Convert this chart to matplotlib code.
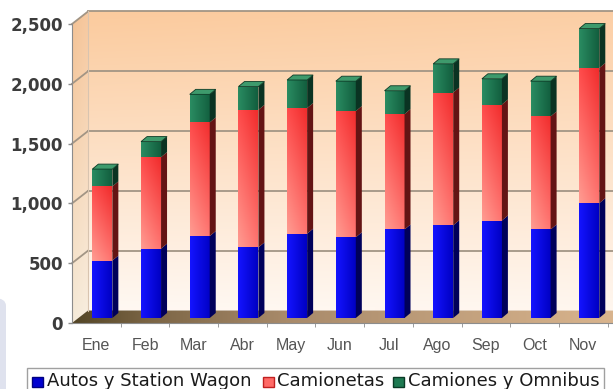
import numpy as np
import matplotlib.pyplot as plt
from matplotlib.patches import Polygon, Rectangle, FancyBboxPatch
from matplotlib.colors import to_rgb

months = ["Ene", "Feb", "Mar", "Abr", "May", "Jun", "Jul", "Ago", "Sep", "Oct", "Nov"]
autos = [480, 580, 685, 590, 705, 675, 740, 775, 815, 740, 960]
camionetas = [620, 765, 950, 1150, 1050, 1055, 965, 1110, 970, 945, 1130]
camiones = [145, 130, 235, 195, 235, 250, 195, 240, 215, 295, 330]
series_names = ["Autos y Station Wagon", "Camionetas", "Camiones y Omnibus"]
y_ticks = [0, 500, 1000, 1500, 2000, 2500]

W, H = 613, 389
XMIN, XMAX = -0.5, 10.61
YMAX = 2500

fig = plt.figure(figsize=(W / 100, H / 100), dpi=100)
fig.patch.set_facecolor("white")
ax = fig.add_axes([72 / W, (H - 323) / H, (W - 72) / W, (323 - 24) / H])

px_x = (W - 72) / (XMAX - XMIN)
px_y = (323 - 24) / YMAX


def dx(p):
    return p / px_x


def dy(p):
    return p / px_y


# depth of the 3d box and of each bar
DX, DY = dx(16), dy(12.5)
BAR_X, BAR_Y = dx(-4), dy(5)
BAR_W = dx(20)
SIDE_X, SIDE_Y = dx(6), dy(5)


def _clip_image(im, verts, z):
    poly = Polygon(verts, closed=True, facecolor="none", edgecolor="none", zorder=z)
    poly.set_clip_on(False)
    ax.add_patch(poly)
    im.set_clip_box(fig.bbox)
    im.set_clip_path(poly)


def shade(verts, corners, z, n=48):
    """Fill a polygon with a bilinear gradient given (bl, br, tl, tr) colours."""
    verts = np.asarray(verts, dtype=float)
    x0, y0 = verts.min(0)
    x1, y1 = verts.max(0)
    bl, br, tl, tr = [np.array(to_rgb(c)) for c in corners]
    t = np.linspace(0, 1, n)
    u = t[None, :, None]
    v = t[:, None, None]
    img = (bl * (1 - u) + br * u) * (1 - v) + (tl * (1 - u) + tr * u) * v
    im = ax.imshow(img, extent=(x0, x1, y0, y1), origin="lower", aspect="auto",
                   interpolation="bilinear", zorder=z)
    _clip_image(im, verts, z)
    return im


def hstops(verts, stops, z, n=96):
    """Horizontal gradient through several colour stops."""
    verts = np.asarray(verts, dtype=float)
    x0, y0 = verts.min(0)
    x1, y1 = verts.max(0)
    pos = [s[0] for s in stops]
    cols = np.array([to_rgb(s[1]) for s in stops])
    t = np.linspace(0, 1, n)
    row = np.stack([np.interp(t, pos, cols[:, k]) for k in range(3)], axis=1)
    im = ax.imshow(row[None, :, :], extent=(x0, x1, y0, y1), origin="lower",
                   aspect="auto", interpolation="bilinear", zorder=z)
    _clip_image(im, verts, z)


RIGHT = XMAX + 1.0

# back wall
shade([(XMIN + DX, DY), (RIGHT, DY), (RIGHT, YMAX + DY), (XMIN + DX, YMAX + DY)],
      ("#fff8f2", "#fff6ee", "#fbcb9e", "#fccfa6"), z=0.1)
# left wall
shade([(XMIN, 0), (XMIN + DX, DY), (XMIN + DX, YMAX + DY), (XMIN, YMAX)],
      ("#f5ead8", "#f8eee0", "#f4c294", "#f7c9a0"), z=0.2)
# floor
hstops([(XMIN, 0), (RIGHT, 0), (RIGHT + DX, DY), (XMIN + DX, DY)],
       [(0, "#544626"), (0.12, "#7a6444"), (0.35, "#a88a6a"), (1, "#e2bc94")], z=0.3)

grid_kw = dict(color="#a29585", lw=1.3, zorder=0.5, clip_on=False)
for v in y_ticks[1:]:
    ax.plot([XMIN + DX, RIGHT], [v + DY, v + DY], **grid_kw)
    ax.plot([XMIN, XMIN + DX], [v, v + DY], **grid_kw)
ax.plot([XMIN + DX, XMIN + DX], [DY, YMAX + DY], color="#d8c4b0", lw=0.8,
        zorder=0.5, clip_on=False)

# stacked 3d bars
segments = [
    (autos, dict(front=("#1414ff", "#0000c4", "#1414ff", "#0000c4"),
                 side="#00005a", top="#3a3aff")),
    (camionetas, dict(front=("#ff9c92", "#ff7470", "#ff4c4c", "#f02c2c"),
                      side="#641414", top="#ff7a72")),
    (camiones, dict(front=("#2a8c62", "#125e3e", "#2a8c62", "#125e3e"),
                    side="#0a3322", top="#3e9a6c")),
]

base = np.zeros(len(months))
for k, (vals, sty) in enumerate(segments):
    vals = np.asarray(vals, dtype=float)
    for i in range(len(months)):
        x0 = i + BAR_X
        x1 = x0 + BAR_W
        y0 = base[i] + BAR_Y
        y1 = base[i] + vals[i] + BAR_Y
        z = 2 + k * 0.1
        shade([(x0, y0), (x1, y0), (x1, y1), (x0, y1)], sty["front"], z=z)
        ax.add_patch(Polygon([(x1, y0), (x1 + SIDE_X, y0 + SIDE_Y),
                              (x1 + SIDE_X, y1 + SIDE_Y), (x1, y1)],
                             closed=True, facecolor=sty["side"], edgecolor="none",
                             zorder=z, clip_on=False))
        if k == len(segments) - 1:
            ax.add_patch(Polygon([(x0, y1), (x1, y1), (x1 + SIDE_X, y1 + SIDE_Y),
                                  (x0 + SIDE_X, y1 + SIDE_Y)],
                                 closed=True, facecolor=sty["top"],
                                 edgecolor="#0c3a26", lw=0.6, zorder=z + 0.05,
                                 clip_on=False))
    base += vals

# axes
ax.set_xlim(XMIN, XMAX)
ax.set_ylim(0, YMAX)
ax.set_facecolor("none")
for s in ["top", "right"]:
    ax.spines[s].set_visible(False)
ax.spines["left"].set_color("#8c8c8c")
ax.spines["bottom"].set_color("#8c8c8c")
ax.spines["left"].set_zorder(3)
ax.spines["bottom"].set_zorder(3)

ax.set_yticks(y_ticks)
ax.set_yticklabels([f"{v:,}" for v in y_ticks])
ax.tick_params(axis="y", length=3, width=1, color="#8c8c8c", pad=3.5,
               labelsize=12, labelcolor="#3c3c3c")
for lab in ax.get_yticklabels():
    lab.set_fontweight("bold")

ax.set_xticks(range(len(months)))
ax.set_xticklabels(months)
ax.set_xticks(np.arange(len(months)) + 0.5, minor=True)
ax.tick_params(axis="x", which="major", length=0, pad=11, labelsize=11.5,
               labelcolor="#555555")
ax.tick_params(axis="x", which="minor", length=3, color="#8c8c8c")
for lab in ax.get_xticklabels():
    lab.set_family("Liberation Sans")


# legend box along the bottom edge
def fx(p):
    return p / W


def fy(p):
    return 1 - p / H


fig.add_artist(Rectangle((fx(27), fy(395)), fx(604) - fx(27), fy(368) - fy(395),
                         transform=fig.transFigure, facecolor="white",
                         edgecolor="#a0a0a0", lw=1))
legend_colors = [("#0000d0", "#000080"), ("#ff6a66", "#c02020"), ("#1e7a52", "#0a3a26")]
marker_x = [32, 263, 393]
text_x = [47, 277, 408]
for name, (fc, ec), mx, tx in zip(series_names, legend_colors, marker_x, text_x):
    fig.add_artist(Rectangle((fx(mx), fy(387)), fx(11), fy(377) - fy(387),
                             transform=fig.transFigure, facecolor=fc, edgecolor=ec,
                             lw=1))
    fig.text(fx(tx), fy(381.5), name, fontsize=13, color="#1a1a1a",
             ha="left", va="center")

fig.add_artist(FancyBboxPatch((fx(-12), fy(400)), fx(18), fy(298) - fy(400),
                              boxstyle="round,pad=0,rounding_size=0.02",
                              transform=fig.transFigure, facecolor="#dfe2ee",
                              edgecolor="none"))

fig.savefig("out.png", dpi=100)
